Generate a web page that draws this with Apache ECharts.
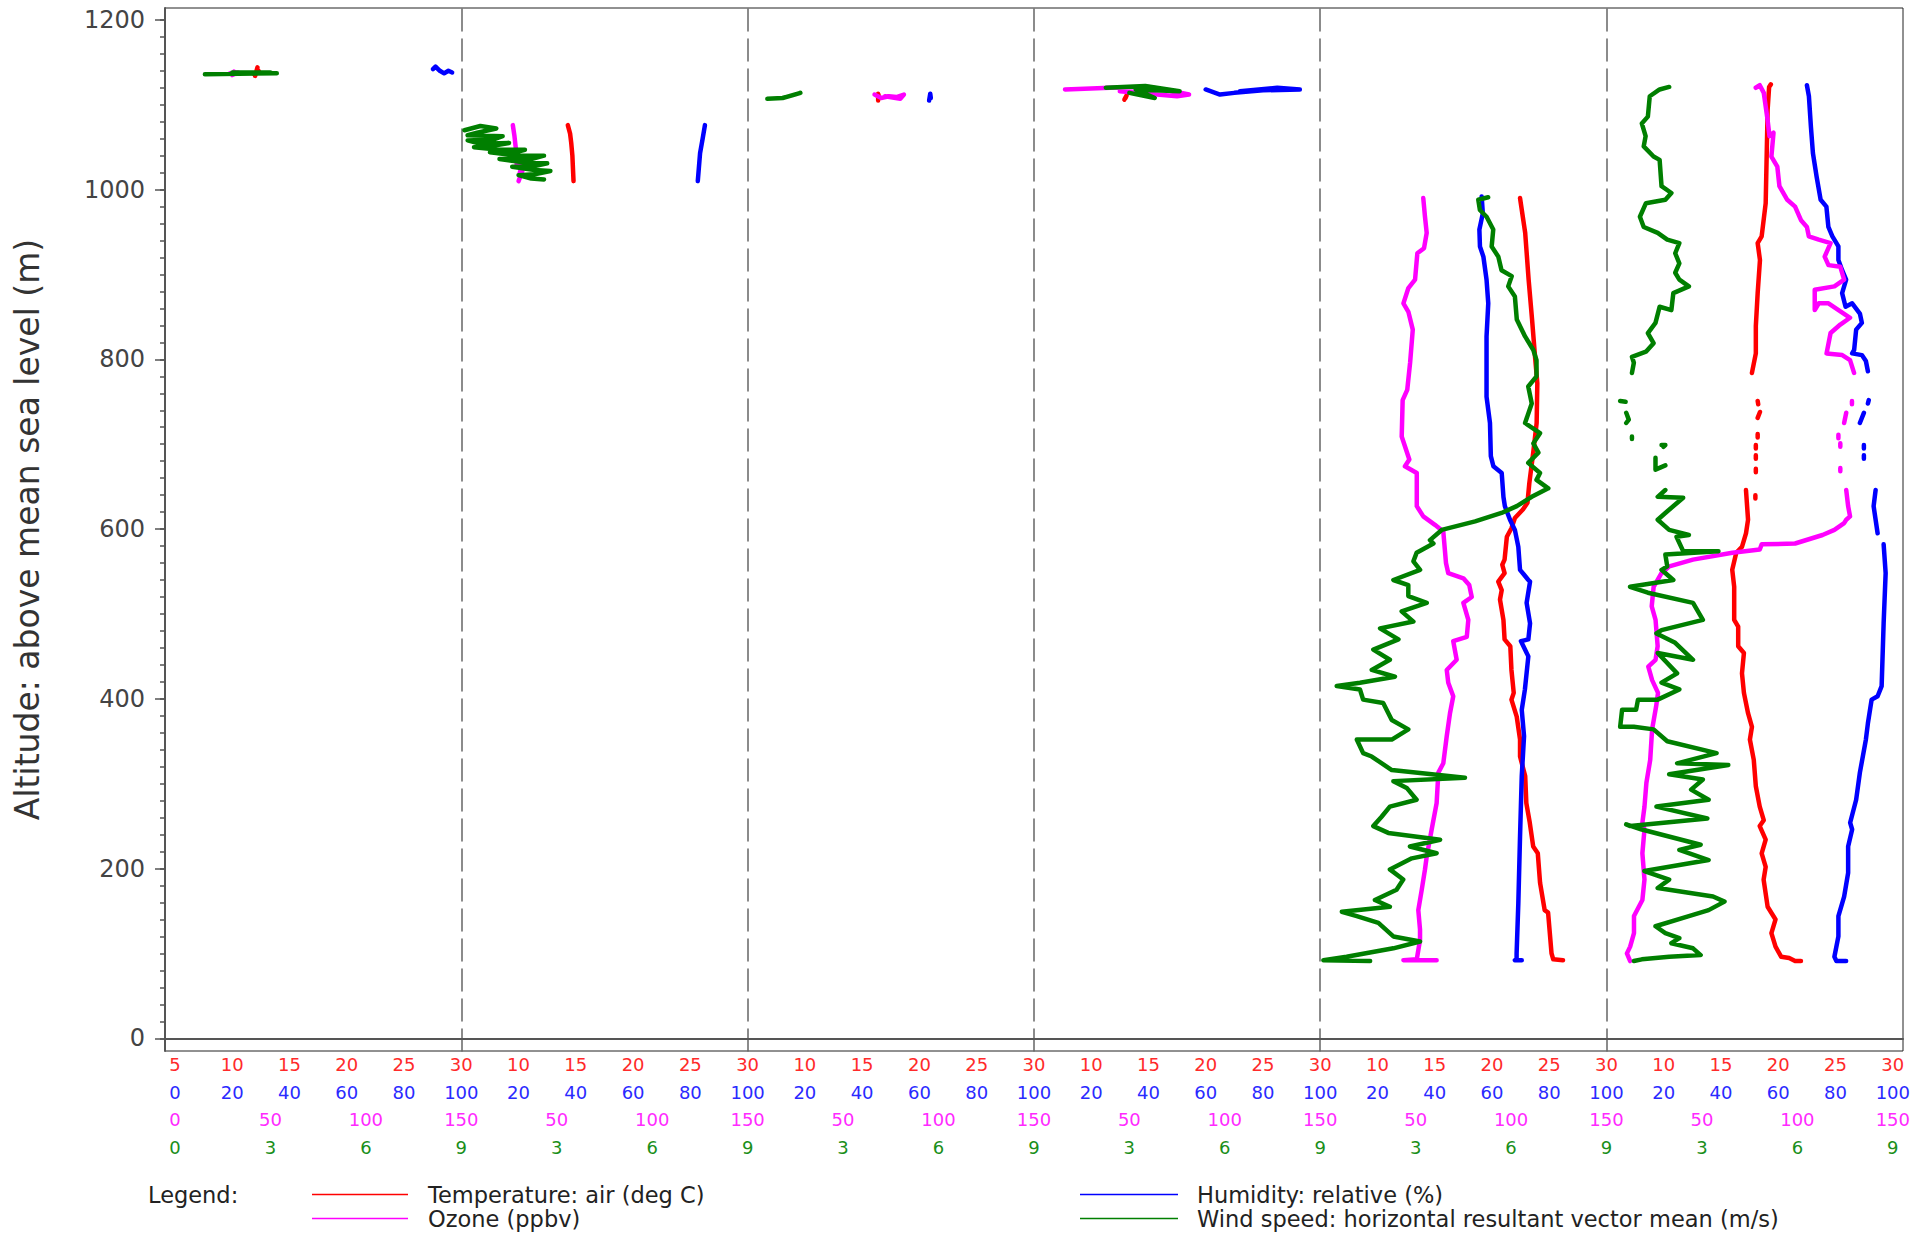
<!DOCTYPE html>
<html>
<head>
<meta charset="utf-8">
<title>Vertical profiles</title>
<script src="https://cdn.jsdelivr.net/npm/echarts@6.0.0/dist/echarts.min.js"></script>
<style>
  html, body { margin: 0; padding: 0; background: #fff; }
  #chart { width: 1916px; height: 1233px; }
</style>
</head>
<body>
<div id="chart"></div>
<script>
// profile points are [value, altitude (m)]; null = gap in the record
const p1Temp = [[12.0, 1134], [12.2, 1144], [12.1, 1138], [11.9, 1136], [12.3, 1140]];
const p1Hum = [[90.1, 1142], [91.0, 1145], [92.5, 1140], [94.0, 1137], [95.5, 1140], [96.8, 1138]];
const p1Ozone = [[28.8, 1137], [33.0, 1138], [30.0, 1135], [31.0, 1139]];
const p1Wind = [[0.94, 1136], [3.2, 1137], [1.8, 1138], [3.0, 1138]];

const p2Temp = [[14.3, 1076], [14.5, 1066], [14.6, 1055], [14.7, 1040], [14.8, 1010]];
const p2Hum = [[85.1, 1076], [84.3, 1060], [83.4, 1043], [82.6, 1010]];
const p2Ozone = [[27.0, 1076], [27.8, 1064], [28.5, 1050], [29.5, 1040], [29.0, 1030], [31.5, 1028],
  [30.5, 1018], [32.0, 1022], [30.0, 1010]];
const p2Wind = [[0.1, 1070], [0.6, 1075], [1.1, 1072], [0.5, 1067], [0.2, 1064], [1.3, 1063], [1.0, 1059],
  [0.2, 1058], [0.6, 1054], [1.5, 1055], [0.9, 1051], [0.4, 1050], [1.2, 1047], [2.0, 1047], [1.6, 1043],
  [0.9, 1044], [1.8, 1040], [2.6, 1040], [2.2, 1036], [1.2, 1036], [2.0, 1032], [2.7, 1031], [2.2, 1027],
  [1.6, 1027], [2.3, 1023], [2.8, 1022], [2.3, 1018], [1.8, 1017], [2.2, 1013], [2.6, 1012]];

const p3Temp = [[16.4, 1105], [16.4, 1113], [16.5, 1108]];
const p3Hum = [[63.4, 1105], [63.8, 1113], [64.0, 1108]];
const p3Ozone = [[66.5, 1112], [70, 1108], [74, 1110], [78, 1109], [81.9, 1112], [80, 1107], [72, 1110]];
const p3Wind = [[0.62, 1107], [1.1, 1108], [1.4, 1111], [1.66, 1114], [1.2, 1109]];

const p4Temp = [[12.9, 1106], [13.1, 1111], [13.0, 1108]];
const p4Hum = [[60, 1118], [65, 1112], [70, 1114], [80, 1117], [92.9, 1118], [85, 1120], [72, 1116]];
const p4Ozone = [[16.3, 1118], [40, 1120], [60, 1121], [70, 1117], [81.3, 1112], [75, 1110], [60, 1113], [45, 1116]];
const p4Wind = [[2.26, 1120], [3.5, 1122], [4.58, 1116], [3.2, 1118], [3.8, 1108], [3.0, 1114]];

const p5Temp = [[22.45, 990], [22.9, 949], [23.2, 894], [23.5, 847], [23.76, 803], [23.96, 772], [23.9, 725],
  [23.6, 690], [23.26, 654], [23.1, 631], [22.7, 623], [22.0, 613], [21.7, 601], [21.3, 591], [21.1, 564],
  [20.9, 558], [21.1, 548], [20.55, 538], [20.85, 528], [20.7, 517], [21.0, 493], [21.1, 470], [21.6, 462],
  [21.7, 434], [21.9, 407], [21.7, 399], [22.16, 379], [22.45, 352], [22.45, 332], [22.9, 309], [23.0, 277],
  [23.3, 254], [23.6, 226], [24.0, 218], [24.2, 183], [24.6, 151], [24.9, 148], [25.2, 100], [25.35, 93], [26.2, 92]];
const p5Hum = [[56.4, 992], [56.8, 972], [55.6, 953], [55.8, 933], [57.0, 921], [58.1, 894], [58.7, 866],
  [58.1, 827], [58.1, 780], [58.1, 756], [59.3, 725], [59.6, 686], [60.5, 674], [63.4, 666], [64.0, 638],
  [64.5, 627], [66.3, 611], [68.0, 599], [69.2, 579], [69.8, 552], [72.7, 540], [73.3, 538], [72.1, 513],
  [73.3, 489], [72.7, 470], [70.1, 468], [72.7, 450], [71.5, 411], [70.4, 387], [71.2, 356], [70.4, 309],
  [69.8, 238], [69.2, 159], [68.6, 100], [68.6, 93], [68.0, 92], [70.4, 92]];
const p5Ozone = [[54.0, 990], [54.9, 968], [55.8, 949], [54.4, 931], [50.9, 925], [49.7, 894], [46.2, 884],
  [43.6, 866], [46.2, 856], [48.5, 835], [47.1, 796], [45.6, 764], [43.2, 752], [42.7, 709], [46.7, 682],
  [44.4, 674], [50.6, 666], [50.6, 627], [54.0, 615], [60.1, 605], [64.5, 597], [65.9, 560], [67.1, 548],
  [75.0, 542], [78.1, 534], [79.4, 520], [75.0, 513], [77.6, 493], [76.8, 473], [69.7, 468], [71.5, 446],
  [66.3, 434], [67.1, 419], [69.7, 403], [68.0, 383], [66.3, 356], [64.5, 324], [61.9, 313], [61.0, 277],
  [58.4, 246], [55.8, 214], [54.9, 199], [53.2, 175], [51.4, 151], [52.3, 128], [52.3, 116], [50.6, 93],
  [43.6, 92], [61.0, 92]];
const p5Wind = [[5.28, 991], [4.97, 988], [5.02, 976], [5.23, 968], [5.44, 953], [5.39, 933], [5.6, 921],
  [5.7, 905], [6.02, 898], [5.91, 886], [6.12, 874], [6.18, 847], [6.44, 827], [6.7, 811], [6.8, 799],
  [6.8, 780], [6.54, 768], [6.65, 748], [6.44, 725], [6.91, 713], [6.7, 701], [6.86, 690], [6.54, 678],
  [6.91, 666], [6.8, 658], [7.17, 648], [6.65, 638], [6.18, 627], [5.7, 619], [4.87, 609], [3.82, 599],
  [3.45, 587], [3.56, 583], [3.03, 572], [2.93, 562], [3.14, 552], [2.3, 540], [2.77, 534], [2.77, 521],
  [3.35, 513], [2.56, 503], [2.93, 491], [1.88, 483], [2.46, 470], [1.67, 458], [2.19, 446], [1.62, 434],
  [2.35, 426], [1.25, 419], [0.52, 415], [1.25, 411], [1.35, 399], [1.98, 395], [2.25, 375], [2.77, 364],
  [2.25, 352], [1.15, 352], [1.35, 336], [1.62, 332], [2.25, 316], [4.55, 307], [2.3, 303], [2.72, 295],
  [3.03, 281], [2.19, 273], [1.93, 261], [1.67, 250], [2.14, 242], [3.77, 234], [2.82, 226], [3.66, 218],
  [2.88, 212], [2.19, 199], [2.61, 187], [2.4, 175], [1.72, 163], [2.19, 155], [0.68, 149], [1.15, 144],
  [1.83, 136], [2.3, 120], [3.14, 114], [2.3, 106], [0.83, 96], [0.1, 92], [1.57, 91]];

const p6Temp = [[19.35, 1124], [19.2, 1121], [19.07, 1094], [18.9, 984], [18.55, 945], [18.2, 937], [18.4, 917],
  [18.2, 878], [18.04, 839], [18.04, 807], [17.7, 784], null,
  [18.2, 751], [18.25, 747], null, [18.4, 738], [18.2, 731], null, [18.2, 712], [18.2, 708], null,
  [18.04, 699], [18.04, 695], null, [18.04, 687], [18.04, 683], null, [18.04, 671], [18.04, 667], null,
  [18.0, 640], [18.0, 636], null,
  [17.18, 646], [17.36, 611], [17.18, 595], [16.83, 579], [16.33, 572], [15.98, 552], [16.15, 532],
  [16.15, 493], [16.5, 485], [16.5, 462], [17.0, 454], [16.83, 430], [17.0, 407], [17.36, 383], [17.7, 367],
  [17.52, 352], [17.86, 328], [18.04, 297], [18.38, 273], [18.73, 257], [18.38, 250], [18.9, 234],
  [18.55, 218], [18.9, 202], [18.72, 187], [19.07, 155], [19.76, 140], [19.4, 124], [19.76, 108],
  [20.26, 96], [20.95, 94.5], [21.47, 91], [21.98, 91]];
const p6Hum = [[70.0, 1123], [70.7, 1110], [71.4, 1074], [72.1, 1043], [73.4, 1015], [74.8, 988], [76.8, 980],
  [77.5, 956], [78.9, 945], [81.0, 933], [81.0, 917], [82.3, 905], [83.7, 894], [82.3, 878], [83.5, 862],
  [85.8, 866], [88.5, 854], [89.2, 843], [87.2, 835], [86.5, 811], [85.8, 807], [89.2, 805], [90.6, 798],
  [91.3, 786], null,
  [91.6, 752], [91.3, 748], null, [89.9, 737], [88.5, 725], null, [89.9, 699], [89.9, 695], null,
  [89.9, 687], [89.9, 683], null,
  [94.0, 646], [93.3, 627], [94.7, 595], null,
  [96.8, 582], [97.5, 548], [96.8, 489], [96.1, 415], [94.7, 403], [92.6, 399], [91.3, 371], [90.6, 352],
  [88.5, 313], [87.2, 281], [85.1, 254], [85.8, 246], [84.4, 226], [84.4, 195], [83.0, 167], [81.0, 144],
  [81.0, 120], [79.6, 96], [80.3, 91], [83.7, 91]];
const p6Ozone = [[78.2, 1120], [80.3, 1123], [82.4, 1114], [84.4, 1082], [85.4, 1063], [87.5, 1067], [86.4, 1039],
  [89.5, 1027], [90.6, 1004], [94.7, 988], [98.8, 980], [101.9, 964], [105.0, 956], [106.0, 945], [111.2, 941],
  [117.4, 937], [114.3, 921], [116.3, 911], [122.5, 909], [124.5, 894], [119.4, 886], [109.1, 882],
  [109.1, 858], [111.2, 866], [116.3, 866], [127.6, 849], [122.5, 841], [117.4, 831], [115.3, 807],
  [123.5, 805], [127.6, 799], [129.7, 784], null,
  [128.6, 751], [128.6, 747], null, [125.6, 737], [124.5, 725], null, [121.5, 711], [121.5, 707], null,
  [122.5, 701], [122.5, 697], null, [122.5, 672], [122.5, 668], null,
  [125.6, 646], [126.6, 627], [127.6, 615], [125.6, 611], [124.5, 607], [119.4, 599], [113.2, 593],
  [98.8, 583], [81.3, 582], [80.3, 576], [65.9, 572], [45.3, 564], [32.9, 556], [28.8, 548], [24.7, 532],
  [23.7, 509], [25.7, 493], [26.8, 462], [25.7, 446], [21.9, 438], [23.9, 422], [27.0, 407], [26.0, 391],
  [23.9, 364], [22.9, 328], [20.9, 301], [19.9, 273], [18.8, 254], [19.9, 246], [18.8, 218], [19.9, 187],
  [18.8, 163], [14.4, 144], [14.4, 124], [12.4, 108], [10.7, 100], [12.4, 91]];
const p6Wind = [[1.97, 1121], [1.67, 1118], [1.36, 1110], [1.3, 1086], [1.11, 1078], [1.23, 1063], [1.17, 1051],
  [1.48, 1039], [1.67, 1035], [1.73, 1004], [2.04, 996], [1.85, 988], [1.24, 984], [1.05, 968], [1.17, 956],
  [1.61, 949], [1.91, 941], [2.29, 937], [2.16, 925], [2.29, 913], [2.16, 902], [2.29, 894], [2.59, 886],
  [2.1, 878], [2.04, 858], [1.67, 862], [1.54, 843], [1.3, 831], [1.48, 819], [1.24, 809], [0.8, 803],
  [0.86, 796], [0.8, 784], null,
  [0.43, 751], [0.6, 750], null, [0.62, 737], [0.7, 729], [0.62, 725], null, [0.8, 709], [0.8, 706], null,
  [1.73, 699], [1.85, 699], [1.79, 697], null, [1.54, 684], [1.54, 670], [1.85, 675], null,
  [1.85, 646], [1.61, 638], [2.41, 637], [1.85, 619], [1.61, 611], [1.97, 599], [2.59, 593], [2.2, 591],
  [2.41, 574], [3.52, 574], [1.85, 570], [1.91, 556], [1.73, 552], [2.1, 540], [0.74, 532], [1.3, 525],
  [2.72, 513], [3.03, 493], [1.73, 481], [1.57, 477], [2.16, 466], [2.72, 446], [1.61, 454], [2.22, 430],
  [1.73, 419], [2.29, 411], [1.61, 399], [0.99, 399], [0.93, 387], [0.49, 387], [0.43, 367], [0.86, 367],
  [1.48, 364], [1.91, 350], [3.46, 336], [2.22, 324], [3.83, 322], [1.97, 311], [3.03, 305], [2.66, 293],
  [3.21, 281], [1.57, 273], [3.17, 259], [0.75, 250], [0.62, 252], [1.11, 246], [2.96, 228], [2.29, 222],
  [3.21, 210], [1.19, 197], [1.97, 187], [1.61, 177], [3.35, 167], [3.71, 161], [3.21, 151], [2.59, 144],
  [1.54, 132], [1.85, 124], [2.29, 118], [2.04, 112], [2.72, 106], [2.96, 98], [1.97, 96], [1.11, 93], [0.86, 91]];

const varNames = ['Temperature: air (deg C)', 'Humidity: relative (%)', 'Ozone (ppbv)',
  'Wind speed: horizontal resultant vector mean (m/s)'];
const varMin = [5, 0, 0, 0];
const varMax = [30, 100, 150, 9];
const varStep = [5, 20, 50, 3];
const altMajor = [0, 200, 400, 600, 800, 1000, 1200];
const altMinor = [];
for (let a = 0; a <= 1200; a += 20) altMinor.push(a);

const panels = [
  [p1Temp, p1Hum, p1Ozone, p1Wind],
  [p2Temp, p2Hum, p2Ozone, p2Wind],
  [p3Temp, p3Hum, p3Ozone, p3Wind],
  [p4Temp, p4Hum, p4Ozone, p4Wind],
  [p5Temp, p5Hum, p5Ozone, p5Wind],
  [p6Temp, p6Hum, p6Ozone, p6Wind]
];

// layout
const colors = ['#ff0000', '#0000ff', '#ff00ff', '#007f00'];
const labelColors = ['#ff2a2a', '#2a2aff', '#ff2aff', '#1a8f1a'];
const font = 'DejaVu Sans';
const gridLeft = 165, gridTop = 8, gridW = 1738, gridH = 1043;
const panelX0 = 175, panelW = 286.3;
const altMin = -15, altMax = 1214;
const rowOffset = [0, 28, 55, 83];

const chart = echarts.init(document.getElementById('chart'), null, { renderer: 'svg' });

const grid = [{
  left: gridLeft, top: gridTop, width: gridW, height: gridH,
  show: true, borderColor: '#222', borderWidth: 1, outerBoundsMode: 'none'
}];
const xAxis = [{
  gridIndex: 0, type: 'value', min: 0, max: 1,
  axisLine: { show: true, lineStyle: { color: '#555', width: 2 } },
  axisTick: { show: false }, axisLabel: { show: false }, splitLine: { show: false }
}];
const yAxis = [{
  gridIndex: 0, type: 'value', position: 'left', min: altMin, max: altMax,
  name: 'Altitude: above mean sea level (m)', nameLocation: 'middle', nameGap: 121,
  nameTextStyle: { fontFamily: font, fontSize: 33, color: '#333' },
  axisLine: { show: true, lineStyle: { color: '#555', width: 2 } },
  axisTick: { show: true, customValues: altMajor, length: 10, lineStyle: { color: '#555', width: 1.5 } },
  axisLabel: {
    show: true, customValues: altMajor, margin: 20, fontFamily: font, fontSize: 24, color: '#444',
    formatter: v => String(v)
  },
  splitLine: { show: false }
}, {
  gridIndex: 0, type: 'value', position: 'left', offset: 0, min: altMin, max: altMax,
  axisLine: { show: false },
  axisTick: { show: true, customValues: altMinor, length: 5, lineStyle: { color: '#555', width: 1.5 } },
  axisLabel: { show: false }, splitLine: { show: false }
}];
const series = [];

panels.forEach((vars, k) => {
  const gi = k + 1;
  grid.push({ left: panelX0 + panelW * k, top: gridTop, width: panelW, height: gridH, outerBoundsMode: 'none' });
  yAxis.push({
    gridIndex: gi, type: 'value', position: 'left', min: altMin, max: altMax, show: k > 0,
    axisLine: { show: k > 0, lineStyle: { color: '#666', width: 1.5, type: [22, 8] } },
    axisTick: { show: false }, axisLabel: { show: false }, splitLine: { show: false }
  });
  const yi = yAxis.length - 1;
  vars.forEach((data, v) => {
    xAxis.push({
      gridIndex: gi, type: 'value', position: 'bottom',
      min: varMin[v], max: varMax[v], interval: varStep[v], offset: rowOffset[v],
      axisLine: { show: false }, axisTick: { show: false }, splitLine: { show: false },
      axisLabel: {
        show: true, showMinLabel: k === 0, showMaxLabel: true, margin: 4,
        fontFamily: font, fontSize: 18, color: labelColors[v]
      }
    });
    series.push({
      type: 'line', name: varNames[v],
      xAxisIndex: xAxis.length - 1, yAxisIndex: yi,
      data: data.map(p => p === null ? ['-', '-'] : p),
      showSymbol: false, connectNulls: false, animation: false,
      color: colors[v],
      lineStyle: { width: 4.5, color: colors[v], cap: 'round', join: 'round' },
      z: 2 + v
    });
  });
});

const legendPos = [
  { left: 307, top: 1178, w: 96, pad: 15 },
  { left: 1075, top: 1178, w: 98, pad: 14 },
  { left: 307, top: 1202, w: 96, pad: 15 },
  { left: 1075, top: 1202, w: 98, pad: 14 }
];
const legend = varNames.map((name, v) => ({
  data: [name], left: legendPos[v].left, top: legendPos[v].top,
  icon: 'rect', itemWidth: legendPos[v].w, itemHeight: 1.5,
  selectedMode: false,
  textStyle: { fontFamily: font, fontSize: 22.5, color: '#222', padding: [0, 0, 0, legendPos[v].pad] }
}));

chart.setOption({
  backgroundColor: '#fff',
  animation: false,
  grid: grid,
  xAxis: xAxis,
  yAxis: yAxis,
  legend: legend,
  graphic: [{
    type: 'text', left: 148, top: 1183,
    style: { text: 'Legend:', fontFamily: font, fontSize: 22.5, fill: '#222' }
  }],
  series: series
});
</script>
</body>
</html>
